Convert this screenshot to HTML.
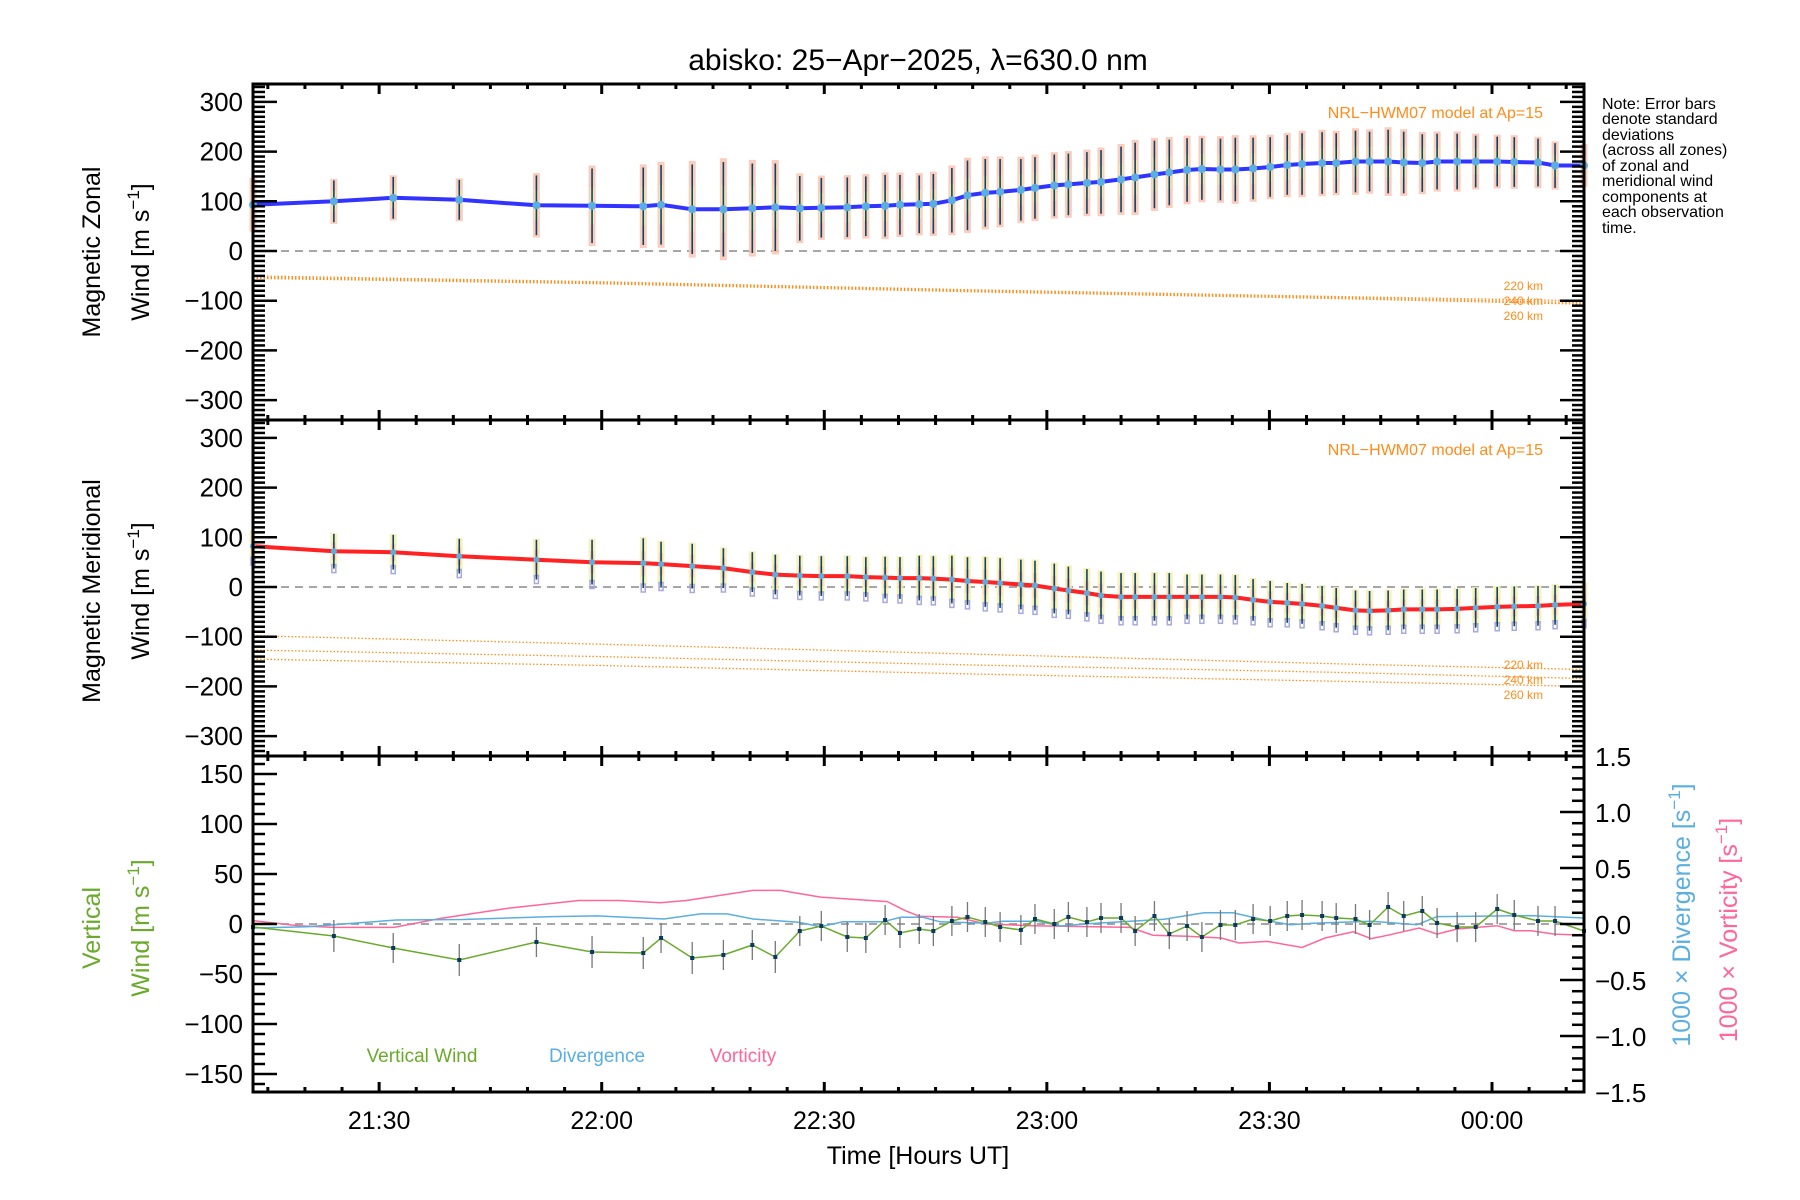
<!DOCTYPE html>
<html><head><meta charset="utf-8"><style>
html,body{margin:0;padding:0;background:#fff;}
svg{display:block;font-family:"Liberation Sans",sans-serif;}
</style></head><body>
<svg id="chart" width="1800" height="1200" viewBox="0 0 1800 1200" xmlns="http://www.w3.org/2000/svg">
<text x="918" y="70" font-size="30" text-anchor="middle">abisko: 25−Apr−2025, λ=630.0 nm</text>
<g id="layer"></g>
<text transform="translate(100,252) rotate(-90)" font-size="25" text-anchor="middle">Magnetic Zonal</text>
<text transform="translate(149,252) rotate(-90)" font-size="25" text-anchor="middle">Wind [m s<tspan dy="-10" font-size="17">−1</tspan><tspan dy="10">]</tspan></text>
<text transform="translate(100,591) rotate(-90)" font-size="25" text-anchor="middle">Magnetic Meridional</text>
<text transform="translate(149,591) rotate(-90)" font-size="25" text-anchor="middle">Wind [m s<tspan dy="-10" font-size="17">−1</tspan><tspan dy="10">]</tspan></text>
<text transform="translate(100,928) rotate(-90)" font-size="25" fill="#6aaa2a" text-anchor="middle">Vertical</text>
<text transform="translate(149,928) rotate(-90)" font-size="25" fill="#6aaa2a" text-anchor="middle">Wind [m s<tspan dy="-10" font-size="17">−1</tspan><tspan dy="10">]</tspan></text>
<text transform="translate(1690,915) rotate(-90)" font-size="25" fill="#5aaee0" text-anchor="middle">1000 × Divergence [s<tspan dy="-10" font-size="17">−1</tspan><tspan dy="10">]</tspan></text>
<text transform="translate(1737,930) rotate(-90)" font-size="25" fill="#ff6699" text-anchor="middle">1000 × Vorticity [s<tspan dy="-10" font-size="17">−1</tspan><tspan dy="10">]</tspan></text>
<text x="918" y="1164" font-size="25" text-anchor="middle">Time [Hours UT]</text>
<g font-size="16">
<text x="1602" y="109">Note: Error bars</text><text x="1602" y="124">denote standard</text><text x="1602" y="140">deviations</text><text x="1602" y="155">(across all zones)</text><text x="1602" y="171">of zonal and</text><text x="1602" y="186">meridional wind</text><text x="1602" y="202">components at</text><text x="1602" y="217">each observation</text><text x="1602" y="233">time.</text>
</g>
<text x="1543" y="118" font-size="16" fill="#ff8c1a" text-anchor="end">NRL−HWM07 model at Ap=15</text>
<text x="1543" y="455" font-size="16" fill="#ff8c1a" text-anchor="end">NRL−HWM07 model at Ap=15</text>
<g font-size="12" fill="#ff8c1a" text-anchor="end"><text x="1543" y="290">220 km</text><text x="1543" y="305">240 km</text><text x="1543" y="320">260 km</text></g>
<g font-size="12" fill="#ff8c1a" text-anchor="end"><text x="1543" y="669">220 km</text><text x="1543" y="684">240 km</text><text x="1543" y="699">260 km</text></g>
<text x="422" y="1062" font-size="19" fill="#6aaa2a" text-anchor="middle">Vertical Wind</text>
<text x="597" y="1062" font-size="19" fill="#5aaee0" text-anchor="middle">Divergence</text>
<text x="743" y="1062" font-size="19" fill="#ff6699" text-anchor="middle">Vorticity</text>
</svg>
<script>
// observation times (minutes after 21:00 UT)
const obsTimes=[13,23.9,31.9,40.8,51.2,58.7,65.6,68.0,72.2,76.4,80.3,83.4,86.7,89.6,93.1,95.6,98.2,100.2,102.8,104.7,107.2,109.3,111.7,113.7,116.5,118.4,121.0,122.9,125.4,127.3,130.0,131.9,134.5,136.5,138.9,140.9,143.4,145.4,147.8,150.1,152.4,154.4,157.1,159.0,161.6,163.5,166.0,168.1,170.6,172.6,175.3,177.8,180.7,183.0,186.2,188.5,192.4];
const zonalWind=[93,100,107,103,92,91,90,93,84,84,86,88,86,87,88,90,91,93,94,95,102,112,117,119,123,127,132,134,137,139,144,148,154,158,163,165,164,164,166,169,173,175,177,177,180,180,180,178,177,180,180,180,180,179,178,172,172];
const zonalErr=[50,42,42,40,60,75,78,80,90,95,90,88,65,60,60,60,62,60,58,60,65,70,68,66,62,62,62,62,62,64,66,70,68,66,64,62,62,64,62,60,60,62,62,60,62,60,64,62,58,56,56,52,50,50,48,45,40];
const meridWind=[82,72,70,62,55,50,48,46,42,38,30,25,23,22,22,20,19,18,18,17,15,12,10,8,5,3,-3,-7,-12,-17,-20,-20,-20,-20,-20,-20,-20,-21,-26,-30,-32,-34,-38,-42,-47,-48,-47,-45,-45,-45,-44,-42,-40,-39,-38,-36,-34];
const meridErr=[30,35,35,35,40,45,50,45,45,40,40,40,40,40,40,40,42,42,45,45,48,48,50,50,50,50,50,48,48,48,48,48,48,48,45,45,45,45,42,42,40,40,40,40,40,40,40,40,40,40,40,40,40,40,40,40,40];
const vertWind=[-3,-12,-24,-36,-18,-28,-29,-14,-34,-31,-21,-33,-7,-2,-13,-14,4,-9,-5,-7,3,7,2,-3,-6,5,0,7,2,6,6,-7,8,-10,-2,-13,-1,-1,5,3,8,9,8,6,5,-1,17,8,13,1,-3,-3,15,9,3,3,-7];
const vertErr=[15,16,15,16,15,16,16,15,16,15,15,16,15,15,15,15,15,15,15,15,15,15,15,15,15,15,15,15,15,15,15,15,15,15,15,15,15,15,15,15,15,15,15,15,15,15,15,15,15,15,15,15,15,15,15,15,15];
const vortTimes=[13.0,19.1,23.9,32.0,38.3,47.4,56.9,62.3,67.9,71.4,80.4,84.1,89.5,98.5,100.9,102.8,107.9,111.8,118.0,126.5,131.2,134.3,138.9,143.5,145.9,149.7,154.4,157.5,161.3,163.7,166.0,170.2,172.6,175.3,180.7,183.0,185.3,188.4,192.4];
const vorticity=[0.03,-0.016,-0.03,-0.03,0.05,0.14,0.21,0.21,0.19,0.21,0.30,0.30,0.24,0.20,0.12,0.07,0.06,0,-0.015,-0.024,-0.03,-0.1,-0.11,-0.125,-0.17,-0.155,-0.21,-0.125,-0.07,-0.13,-0.1,-0.036,-0.09,-0.045,-0.015,-0.06,-0.06,-0.09,-0.1];
const divTimes=[13.0,20.3,32.3,41.3,53.3,59.4,65.5,68.4,73.3,76.9,80.4,86.5,89.5,92.5,97.9,100.3,103.3,105.6,111.8,114.1,118.8,121.9,125.0,131.2,135.8,141.2,145.1,149.7,152.8,155.9,163.7,169.9,172.6,177.6,185.3,192.4];
const divergence=[-0.036,-0.024,0.036,0.04,0.066,0.072,0.054,0.045,0.09,0.09,0.045,0.015,-0.024,0.02,0.02,0.06,0.06,0.02,0.006,0.024,0.024,-0.018,0,0.024,0.042,0.1,0.1,0.03,-0.006,0.006,0.024,-0.006,0.066,0.069,0.075,0.054];
const modelTimes=[13,60,110,160,192.4];
const zonal220=[-50,-62,-78,-92,-100];
const zonal240=[-53,-64,-80,-94,-104];
const zonal260=[-55,-66,-82,-96,-107];
const merid220=[-98,-115,-135,-155,-166];
const merid240=[-127,-140,-157,-172,-184];
const merid260=[-145,-158,-175,-190,-200];
const xTickTimes=[30,60,90,120,150,180];
const xTickLabels=["21:30","22:00","22:30","23:00","23:30","00:00"];

const NS="http://www.w3.org/2000/svg";
const L=253,R=1584,T0=13,T1=192.4;
const xs=t=>L+(t-T0)*(R-L)/(T1-T0);
const panels=[{top:84,bot:420,min:-340,max:336},{top:420,bot:756,min:-340,max:336},{top:756,bot:1092,min:-168,max:168}];
const ys=(p,v)=>p.bot-(v-p.min)*(p.bot-p.top)/(p.max-p.min);
const rScale=v=>924-v*(1092-756)/3;
const layer=document.getElementById('layer');
function mk(tag,attrs,name){const e=document.createElementNS(NS,tag);for(const k in attrs)e.setAttribute(k,attrs[k]);


layer.appendChild(e);return e;}
function poly(ts,vs,f,attrs,name){return mk('polyline',Object.assign({points:ts.map((t,i)=>xs(t).toFixed(1)+','+f(vs[i]).toFixed(1)).join(' '),fill:'none'},attrs),name);}
const mm=v=>v<0?'−'+Math.abs(v):String(v);

panels.forEach((p,i)=>mk('line',{x1:L,x2:R,y1:ys(p,0),y2:ys(p,0),stroke:'#888','stroke-width':1.5,'stroke-dasharray':'8 6'},'zero-line-'+(i+1)));

[[zonal220,0],[zonal240,0],[zonal260,0],[merid220,1],[merid240,1],[merid260,1]].forEach((m,i)=>{
 const p=panels[m[1]];poly(modelTimes,m[0],v=>ys(p,v),{stroke:'#ff8c1a','stroke-width':1.3,'stroke-dasharray':'1.5 2'},'model-line-'+i);});

function bars(vals,errs,p,pfx,lav){
 obsTimes.forEach((t,i)=>{const x=xs(t);
  const up=vals[i]+errs[i]*(lav?1.05:1.08),dn=vals[i]-errs[i]*(lav?0.9:1.08);
  mk('rect',{x:x-3.5,y:ys(p,up),width:7,height:ys(p,dn)-ys(p,up),fill:lav?'#f7efb0':'#f9c4b2',opacity:0.85},pfx+'-zone-band');
  mk('rect',{x:x-2,y:ys(p,vals[i]+errs[i]*0.5),width:4,height:ys(p,vals[i]-errs[i]*0.5)-ys(p,vals[i]+errs[i]*0.5),fill:lav?'#f9c4b2':'#eef4b0',opacity:0.7},pfx+'-zone-band-inner');
  if(lav) mk('rect',{x:x-2,y:ys(p,vals[i]-errs[i])-4,width:4,height:8,fill:'none',stroke:'#a8a8dd','stroke-width':1.5},pfx+'-zone-marker');
  mk('line',{x1:x,x2:x,y1:ys(p,vals[i]+errs[i]),y2:ys(p,vals[i]-errs[i]),stroke:'#0f4466','stroke-width':1.6},pfx+'-error-bar');
 });}
bars(zonalWind,zonalErr,panels[0],'zonal',false);
bars(meridWind,meridErr,panels[1],'meridional',true);
poly(obsTimes,zonalWind,v=>ys(panels[0],v),{stroke:'#3333ff','stroke-width':4},'zonal-wind-line');
poly(obsTimes,meridWind,v=>ys(panels[1],v),{stroke:'#ff2222','stroke-width':4},'meridional-wind-line');
obsTimes.forEach((t,i)=>{mk('circle',{cx:xs(t),cy:ys(panels[0],zonalWind[i]),r:4,fill:'#5aaee0'},'zonal-point');
 mk('circle',{cx:xs(t),cy:ys(panels[1],meridWind[i]),r:3,fill:'#5aaee0'},'meridional-point');});

const pb=panels[2];
poly(vortTimes,vorticity,rScale,{stroke:'#ff6699','stroke-width':1.5},'vorticity-line');
poly(divTimes,divergence,rScale,{stroke:'#5aaee0','stroke-width':1.5},'divergence-line');
obsTimes.forEach((t,i)=>mk('line',{x1:xs(t),x2:xs(t),y1:ys(pb,vertWind[i]+vertErr[i]),y2:ys(pb,vertWind[i]-vertErr[i]),stroke:'#777','stroke-width':1.3},'vertical-error-bar'));
poly(obsTimes,vertWind,v=>ys(pb,v),{stroke:'#6aaa2a','stroke-width':1.5},'vertical-wind-line');
obsTimes.forEach((t,i)=>mk('rect',{x:xs(t)-2,y:ys(pb,vertWind[i])-2,width:4,height:4,fill:'#0a3a5e'},'vertical-wind-point'));

panels.forEach((p,pi)=>{
 mk('rect',{x:L,y:p.top,width:R-L,height:p.bot-p.top,fill:'none',stroke:'#000','stroke-width':3},'panel-frame-'+(pi+1));
 for(let t=15;t<=T1;t+=5){const x=xs(t),maj=(t%30===0);const len=maj?10:5;
  mk('line',{x1:x,x2:x,y1:p.top,y2:p.top+len,stroke:'#000','stroke-width':3},'x-tick');
  mk('line',{x1:x,x2:x,y1:p.bot,y2:p.bot-len,stroke:'#000','stroke-width':3},'x-tick');}
 const step=10,major=pi<2?100:50;
 for(let v=Math.ceil(p.min/step)*step;v<=p.max;v+=step){const y=ys(p,v),maj=(v%major===0);const len=maj?24:12;
  mk('line',{x1:L,x2:L+len,y1:y,y2:y,stroke:'#000','stroke-width':2.5},'y-tick');
  if(pi<2) mk('line',{x1:R,x2:R-len,y1:y,y2:y,stroke:'#000','stroke-width':2.5},'y-tick-right');
  if(maj){const tx=mk('text',{x:243,y:y+9,'font-size':26,'text-anchor':'end'},'y-tick-label');tx.textContent=mm(v);}}
});
for(let k=-15;k<=15;k++){const v=k/10,y=rScale(v),maj=(k%5===0);
 mk('line',{x1:R,x2:R-(maj?24:12),y1:y,y2:y,stroke:'#000','stroke-width':2.5},'right-y-tick');
 if(maj){const tx=mk('text',{x:1595,y:y+10,'font-size':26},'right-y-tick-label');tx.textContent=(v<0?'−':'')+Math.abs(v).toFixed(1);}}
xTickTimes.forEach((t,i)=>{const tx=mk('text',{x:xs(t),y:1129,'font-size':25,'text-anchor':'middle'},'x-tick-label');tx.textContent=xTickLabels[i];});
</script>
</body></html>
